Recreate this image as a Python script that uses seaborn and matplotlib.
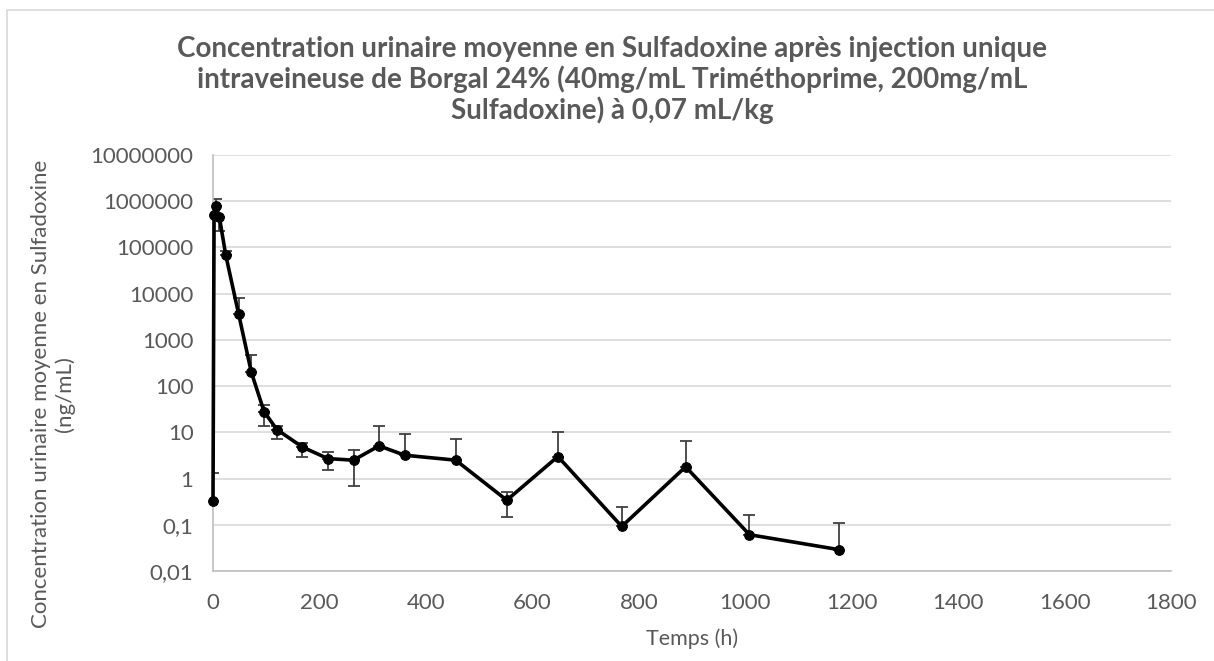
import numpy as np
import pandas as pd
import matplotlib
matplotlib.use("Agg")
import matplotlib.pyplot as plt
from matplotlib.patches import Rectangle
import seaborn as sns

# -----------------------------
# Data
# -----------------------------
temps_h = [0, 2, 6, 12, 24, 48, 72, 96, 120, 168, 216, 264, 312, 360,
           456, 552, 648, 768, 888, 1008, 1176]
conc_moy = [0.33, 500000, 800000, 450000, 68000, 3700, 200, 28, 11.5, 4.8,
            2.7, 2.5, 5.1, 3.2, 2.5, 0.34, 3.0, 0.092, 1.8, 0.061, 0.029]
# upper / lower ends of the error bars (nan = not drawn)
err_haut = [1.3, np.nan, 1100000, np.nan, 83000, 8100, 480, 40, 14, 5.9,
            3.8, 4.1, 14, 9, 7.2, 0.5, 10, 0.24, 6.6, 0.16, 0.11]
err_bas = [np.nan, np.nan, np.nan, 230000, np.nan, np.nan, np.nan, 13.5, 7.3,
           2.9, 1.5, 0.7, np.nan, np.nan, np.nan, 0.15, np.nan, np.nan,
           np.nan, np.nan, np.nan]

x_ticks = [0, 200, 400, 600, 800, 1000, 1200, 1400, 1600, 1800]
y_ticks = [0.01, 0.1, 1, 10, 100, 1000, 10000, 100000, 1000000, 10000000]
y_tick_labels = ["0,01", "0,1", "1", "10", "100", "1000", "10000",
                 "100000", "1000000", "10000000"]

titre = ("Concentration urinaire moyenne en Sulfadoxine après injection unique\n"
         "intraveineuse de Borgal 24% (40mg/mL Triméthoprime, 200mg/mL\n"
         "Sulfadoxine) à 0,07 mL/kg")

df = pd.DataFrame({"Temps (h)": temps_h, "Concentration": conc_moy,
                   "haut": err_haut, "bas": err_bas})

# -----------------------------
# Style
# -----------------------------
sns.set_theme(style="white")
plt.rcParams["font.family"] = ["Lato", "DejaVu Sans"]
gris_txt = "#595959"

fig = plt.figure(figsize=(12.14, 6.61), dpi=100)
ax = fig.add_axes([213 / 1214, 1 - 571 / 661, (1171 - 213) / 1214, (571 - 155) / 661])

# chart frame (top / left edges visible)
fig.patches.append(Rectangle((7 / 1214, -0.1), 1.2, 1 - 10 / 661 + 0.1,
                             transform=fig.transFigure, fill=False,
                             edgecolor="#d9d9d9", linewidth=1.2))

# -----------------------------
# Error bars (drawn separately up / down)
# -----------------------------
plus = (df["haut"] - df["Concentration"]).fillna(0).to_numpy()
minus = (df["Concentration"] - df["bas"]).fillna(0).to_numpy()
mask_up = df["haut"].notna().to_numpy()
mask_dn = df["bas"].notna().to_numpy()
ax.errorbar(df["Temps (h)"][mask_up], df["Concentration"][mask_up],
            yerr=[np.zeros(mask_up.sum()), plus[mask_up]], fmt="none",
            ecolor="#404040", elinewidth=1.3, capsize=4, capthick=1.3, zorder=2)
ax.errorbar(df["Temps (h)"][mask_dn], df["Concentration"][mask_dn],
            yerr=[minus[mask_dn], np.zeros(mask_dn.sum())], fmt="none",
            ecolor="#404040", elinewidth=1.3, capsize=4, capthick=1.3, zorder=2)

# -----------------------------
# Mean curve
# -----------------------------
sns.lineplot(data=df, x="Temps (h)", y="Concentration", sort=False,
             color="black", linewidth=2.6, marker="o", markersize=7,
             markeredgecolor="black", ax=ax, zorder=3, clip_on=False)

ax.set_yscale("log")
ax.set_ylim(0.01, 10000000)
ax.set_xlim(0, 1800)
ax.set_yticks(y_ticks)
ax.set_yticklabels(y_tick_labels)
ax.minorticks_off()
ax.set_xticks(x_ticks)
ax.set_xticklabels([str(v) for v in x_ticks])
ax.tick_params(axis="both", length=0, labelsize=16, labelcolor=gris_txt)
ax.tick_params(axis="y", pad=14)
ax.tick_params(axis="x", pad=16)

ax.grid(axis="y", color="#d9d9d9", linewidth=1.2)
ax.set_axisbelow(True)
for s in ["top", "right"]:
    ax.spines[s].set_visible(False)
ax.spines["left"].set_color("#bfbfbf")
ax.spines["bottom"].set_color("#bfbfbf")
ax.spines["left"].set_linewidth(1.2)
ax.spines["bottom"].set_linewidth(1.2)

ax.set_xlabel("Temps (h)", fontsize=15.5, color=gris_txt, labelpad=11)
ax.set_ylabel("Concentration urinaire moyenne en Sulfadoxine\n(ng/mL)",
              fontsize=16, color=gris_txt, labelpad=11, linespacing=1.25)
ax.yaxis.label.set_y(0.425)

fig.text(612 / 1214, 1 - 80 / 661, titre, ha="center",
         va="center", fontsize=20, fontweight="bold", color=gris_txt,
         linespacing=1.15)

plt.savefig("out.png", dpi=100)
plt.close()
